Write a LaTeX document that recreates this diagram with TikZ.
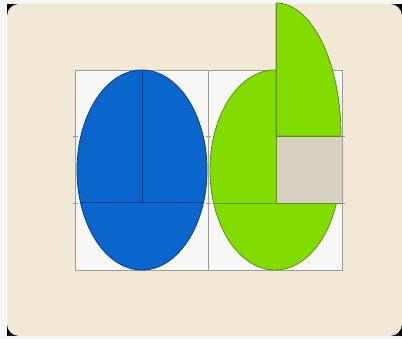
\documentclass[tikz,border=0pt]{standalone}
\usepackage{xcolor}
\usepackage{tikz}
\definecolor{creamx}{HTML}{F1E9D6}
\definecolor{bluex}{HTML}{0A66CC}
\definecolor{bluedk}{HTML}{0B3E86}
\definecolor{greenx}{HTML}{82DC00}
\definecolor{greendk}{HTML}{5C9410}
\definecolor{tanx}{HTML}{D7CFBF}
\definecolor{gridx}{HTML}{9C9A94}
\definecolor{cellx}{HTML}{F7F7F5}
\tikzset{
  cell/.style={draw=gridx,fill=cellx,line width=0.6pt},
  blueshape/.style={fill=bluex,draw=bluedk,line width=0.6pt},
  greenshape/.style={fill=greenx,draw=greendk,line width=0.6pt},
  tick/.style={draw=gridx,line width=0.6pt}
}

\begin{document}
\begin{tikzpicture}[x=0.025cm,y=-0.025cm]
\useasboundingbox (0,0) rectangle (402,339);
\fill[white!92!gray] (0,0) rectangle (402,339);
\fill[black] (7,4) rectangle (402,336);
\fill[creamx,rounded corners=0.3cm] (7,4) rectangle (402,336);
% the two cells
\coordinate (L) at (142,170); \coordinate (R) at (275,170);
\draw[cell] (75,70) rectangle (208,270);
\draw[cell] (208,70) rectangle (342,270);
\foreach \x in {75,208,342}
  \foreach \y in {136,203}
    \draw[tick] (\x-2.5,\y) -- (\x+2.5,\y);
% blue
\draw[blueshape] (L) ellipse (65 and 100);
\begin{scope}
  \clip (L) ellipse (65 and 100);
  \draw[bluedk,line width=0.6pt] (142,70) -- (142,202);
  \draw[bluedk,line width=0.6pt] (70,202) -- (215,202);
\end{scope}
% green
\draw[greenshape] (R) ellipse (65 and 100);
\coordinate (Q) at (276,136);
\draw[greenshape] (Q) -- (276,3) arc[start angle=90,end angle=0,x radius=65,y radius=-133] -- cycle;
\fill[tanx] (276,136) rectangle (342,203);
\draw[greendk,line width=0.6pt] (276,136) -- (342,136);
\draw[greendk,line width=0.6pt] (276,3) -- (276,203);
\begin{scope}
  \clip (R) ellipse (65 and 100);
  \draw[greendk,line width=0.6pt] (205,203) -- (345,203);
\end{scope}
\draw[greendk,line width=0.6pt] (276,203) -- (342,203);
\end{tikzpicture}
\end{document}
